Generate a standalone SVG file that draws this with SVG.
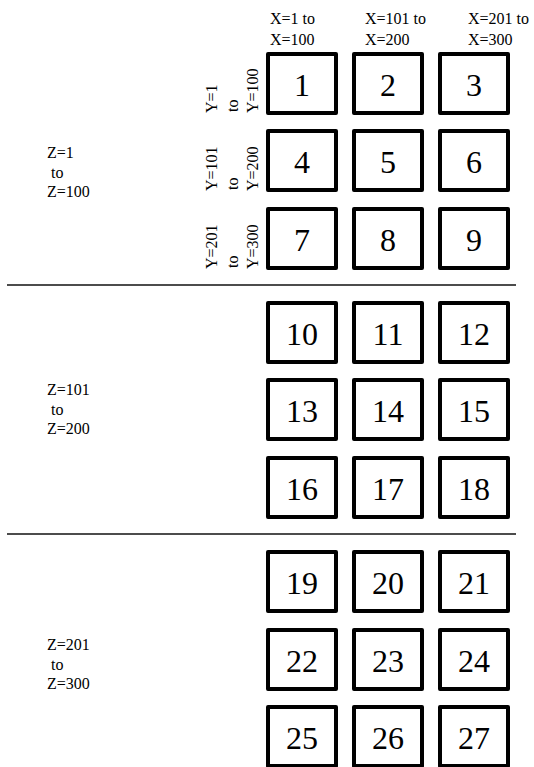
<svg xmlns="http://www.w3.org/2000/svg" width="534" height="767" viewBox="0 0 534 767">
<rect width="534" height="767" fill="#fff"/>
<g id="headers">
<text font-family="Liberation Serif" font-size="16" x="270" y="24">X=1 to</text><text font-family="Liberation Serif" font-size="16" x="270" y="45">X=100</text>
<text font-family="Liberation Serif" font-size="16" x="365" y="24">X=101 to</text><text font-family="Liberation Serif" font-size="16" x="365" y="45">X=200</text>
<text font-family="Liberation Serif" font-size="16" x="468" y="24">X=201 to</text><text font-family="Liberation Serif" font-size="16" x="468" y="45">X=300</text>
</g>
<g id="ylabels">
<text font-family="Liberation Serif" font-size="16" transform="translate(217,113) rotate(-90)">Y=1</text><text font-family="Liberation Serif" font-size="16" transform="translate(237.5,112) rotate(-90)">to</text><text font-family="Liberation Serif" font-size="16" transform="translate(258,113) rotate(-90)">Y=100</text>
<text font-family="Liberation Serif" font-size="16" transform="translate(217,191) rotate(-90)">Y=101</text><text font-family="Liberation Serif" font-size="16" transform="translate(237.5,190) rotate(-90)">to</text><text font-family="Liberation Serif" font-size="16" transform="translate(258,191) rotate(-90)">Y=200</text>
<text font-family="Liberation Serif" font-size="16" transform="translate(217,269) rotate(-90)">Y=201</text><text font-family="Liberation Serif" font-size="16" transform="translate(237.5,268) rotate(-90)">to</text><text font-family="Liberation Serif" font-size="16" transform="translate(258,269) rotate(-90)">Y=300</text>
</g>
<g id="zlabels">
<text font-family="Liberation Serif" font-size="16" x="47" y="158">Z=1</text><text font-family="Liberation Serif" font-size="16" x="51" y="177.5">to</text><text font-family="Liberation Serif" font-size="16" x="47" y="197">Z=100</text>
<text font-family="Liberation Serif" font-size="16" x="47" y="395">Z=101</text><text font-family="Liberation Serif" font-size="16" x="51" y="414.5">to</text><text font-family="Liberation Serif" font-size="16" x="47" y="434">Z=200</text>
<text font-family="Liberation Serif" font-size="16" x="47" y="650">Z=201</text><text font-family="Liberation Serif" font-size="16" x="51" y="669.5">to</text><text font-family="Liberation Serif" font-size="16" x="47" y="689">Z=300</text>
</g>
<g id="connectors">
<line x1="7" y1="285" x2="516" y2="285" stroke="#111" stroke-width="1.5"/>
<line x1="7" y1="534" x2="516" y2="534" stroke="#111" stroke-width="1.5"/>
</g>
<g id="nodes">
<g id="n1"><rect x="268" y="54" width="68" height="59" fill="#fff" stroke="#000" stroke-width="4" stroke-linejoin="round"/><text font-family="Liberation Serif" font-size="32" text-anchor="middle" x="302" y="95.5">1</text></g>
<g id="n2"><rect x="354" y="54" width="68" height="59" fill="#fff" stroke="#000" stroke-width="4" stroke-linejoin="round"/><text font-family="Liberation Serif" font-size="32" text-anchor="middle" x="388" y="95.5">2</text></g>
<g id="n3"><rect x="440" y="54" width="68" height="59" fill="#fff" stroke="#000" stroke-width="4" stroke-linejoin="round"/><text font-family="Liberation Serif" font-size="32" text-anchor="middle" x="474" y="95.5">3</text></g>
<g id="n4"><rect x="268" y="131" width="68" height="59" fill="#fff" stroke="#000" stroke-width="4" stroke-linejoin="round"/><text font-family="Liberation Serif" font-size="32" text-anchor="middle" x="302" y="172.5">4</text></g>
<g id="n5"><rect x="354" y="131" width="68" height="59" fill="#fff" stroke="#000" stroke-width="4" stroke-linejoin="round"/><text font-family="Liberation Serif" font-size="32" text-anchor="middle" x="388" y="172.5">5</text></g>
<g id="n6"><rect x="440" y="131" width="68" height="59" fill="#fff" stroke="#000" stroke-width="4" stroke-linejoin="round"/><text font-family="Liberation Serif" font-size="32" text-anchor="middle" x="474" y="172.5">6</text></g>
<g id="n7"><rect x="268" y="209" width="68" height="59" fill="#fff" stroke="#000" stroke-width="4" stroke-linejoin="round"/><text font-family="Liberation Serif" font-size="32" text-anchor="middle" x="302" y="250.5">7</text></g>
<g id="n8"><rect x="354" y="209" width="68" height="59" fill="#fff" stroke="#000" stroke-width="4" stroke-linejoin="round"/><text font-family="Liberation Serif" font-size="32" text-anchor="middle" x="388" y="250.5">8</text></g>
<g id="n9"><rect x="440" y="209" width="68" height="59" fill="#fff" stroke="#000" stroke-width="4" stroke-linejoin="round"/><text font-family="Liberation Serif" font-size="32" text-anchor="middle" x="474" y="250.5">9</text></g>
<g id="n10"><rect x="268" y="303" width="68" height="59" fill="#fff" stroke="#000" stroke-width="4" stroke-linejoin="round"/><text font-family="Liberation Serif" font-size="32" text-anchor="middle" x="302" y="345">10</text></g>
<g id="n11"><rect x="354" y="303" width="68" height="59" fill="#fff" stroke="#000" stroke-width="4" stroke-linejoin="round"/><text font-family="Liberation Serif" font-size="32" text-anchor="middle" x="388" y="345">11</text></g>
<g id="n12"><rect x="440" y="303" width="68" height="59" fill="#fff" stroke="#000" stroke-width="4" stroke-linejoin="round"/><text font-family="Liberation Serif" font-size="32" text-anchor="middle" x="474" y="345">12</text></g>
<g id="n13"><rect x="268" y="380" width="68" height="59" fill="#fff" stroke="#000" stroke-width="4" stroke-linejoin="round"/><text font-family="Liberation Serif" font-size="32" text-anchor="middle" x="302" y="422">13</text></g>
<g id="n14"><rect x="354" y="380" width="68" height="59" fill="#fff" stroke="#000" stroke-width="4" stroke-linejoin="round"/><text font-family="Liberation Serif" font-size="32" text-anchor="middle" x="388" y="422">14</text></g>
<g id="n15"><rect x="440" y="380" width="68" height="59" fill="#fff" stroke="#000" stroke-width="4" stroke-linejoin="round"/><text font-family="Liberation Serif" font-size="32" text-anchor="middle" x="474" y="422">15</text></g>
<g id="n16"><rect x="268" y="458" width="68" height="59" fill="#fff" stroke="#000" stroke-width="4" stroke-linejoin="round"/><text font-family="Liberation Serif" font-size="32" text-anchor="middle" x="302" y="500">16</text></g>
<g id="n17"><rect x="354" y="458" width="68" height="59" fill="#fff" stroke="#000" stroke-width="4" stroke-linejoin="round"/><text font-family="Liberation Serif" font-size="32" text-anchor="middle" x="388" y="500">17</text></g>
<g id="n18"><rect x="440" y="458" width="68" height="59" fill="#fff" stroke="#000" stroke-width="4" stroke-linejoin="round"/><text font-family="Liberation Serif" font-size="32" text-anchor="middle" x="474" y="500">18</text></g>
<g id="n19"><rect x="268" y="552" width="68" height="59" fill="#fff" stroke="#000" stroke-width="4" stroke-linejoin="round"/><text font-family="Liberation Serif" font-size="32" text-anchor="middle" x="302" y="594">19</text></g>
<g id="n20"><rect x="354" y="552" width="68" height="59" fill="#fff" stroke="#000" stroke-width="4" stroke-linejoin="round"/><text font-family="Liberation Serif" font-size="32" text-anchor="middle" x="388" y="594">20</text></g>
<g id="n21"><rect x="440" y="552" width="68" height="59" fill="#fff" stroke="#000" stroke-width="4" stroke-linejoin="round"/><text font-family="Liberation Serif" font-size="32" text-anchor="middle" x="474" y="594">21</text></g>
<g id="n22"><rect x="268" y="630" width="68" height="59" fill="#fff" stroke="#000" stroke-width="4" stroke-linejoin="round"/><text font-family="Liberation Serif" font-size="32" text-anchor="middle" x="302" y="672">22</text></g>
<g id="n23"><rect x="354" y="630" width="68" height="59" fill="#fff" stroke="#000" stroke-width="4" stroke-linejoin="round"/><text font-family="Liberation Serif" font-size="32" text-anchor="middle" x="388" y="672">23</text></g>
<g id="n24"><rect x="440" y="630" width="68" height="59" fill="#fff" stroke="#000" stroke-width="4" stroke-linejoin="round"/><text font-family="Liberation Serif" font-size="32" text-anchor="middle" x="474" y="672">24</text></g>
<g id="n25"><rect x="268" y="707" width="68" height="59" fill="#fff" stroke="#000" stroke-width="4" stroke-linejoin="round"/><text font-family="Liberation Serif" font-size="32" text-anchor="middle" x="302" y="749">25</text></g>
<g id="n26"><rect x="354" y="707" width="68" height="59" fill="#fff" stroke="#000" stroke-width="4" stroke-linejoin="round"/><text font-family="Liberation Serif" font-size="32" text-anchor="middle" x="388" y="749">26</text></g>
<g id="n27"><rect x="440" y="707" width="68" height="59" fill="#fff" stroke="#000" stroke-width="4" stroke-linejoin="round"/><text font-family="Liberation Serif" font-size="32" text-anchor="middle" x="474" y="749">27</text></g>
</g>
</svg>
